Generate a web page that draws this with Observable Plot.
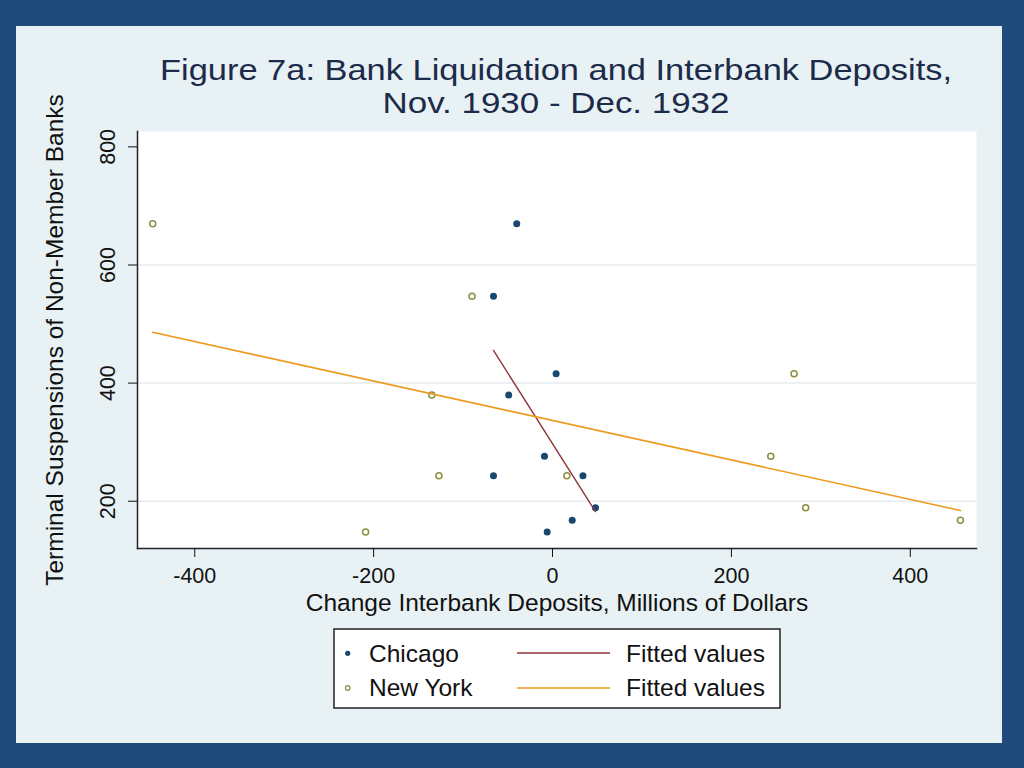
<!DOCTYPE html>
<html>
<head>
<meta charset="utf-8">
<script src="https://cdn.jsdelivr.net/npm/d3@7"></script>
<script src="https://cdn.jsdelivr.net/npm/@observablehq/plot@0.6"></script>
<style>
  html, body { margin: 0; padding: 0; }
  body { width: 1024px; height: 768px; overflow: hidden; background: #1f4a7b; font-family: "Liberation Sans", Arial, sans-serif; }
  #panel { position: absolute; left: 16px; top: 26px; width: 986px; height: 717px; background: #e8f1f4; }
  #title { position: absolute; left: 0; top: 0; }
  #chart { position: absolute; left: 0; top: 94px; }
  #legend { position: absolute; left: 317px; top: 602px; }
</style>
</head>
<body>
<div id="panel">
  <svg id="title" width="986" height="100" font-family="Liberation Sans, Arial, sans-serif">
    <text x="540" y="54" text-anchor="middle" font-size="29" fill="#1c2b4a" textLength="792" lengthAdjust="spacingAndGlyphs">Figure 7a: Bank Liquidation and Interbank Deposits,</text>
    <text x="540" y="87" text-anchor="middle" font-size="29" fill="#1c2b4a" textLength="347" lengthAdjust="spacingAndGlyphs">Nov. 1930 - Dec. 1932</text>
  </svg>
  <div id="chart"></div>
  <svg id="legend" width="449" height="82" font-family="Liberation Sans, Arial, sans-serif" font-size="24.5" fill="#111">
    <rect x="1" y="1" width="446" height="79" fill="white" stroke="#222" stroke-width="1.5"></rect>
    <circle cx="14.7" cy="25.3" r="2.6" fill="#1a476f"></circle>
    <text x="36" y="33.5">Chicago</text>
    <line x1="184" x2="277" y1="25" y2="25" stroke="#90353b" stroke-width="1.5"></line>
    <text x="293" y="33.5">Fitted values</text>
    <circle cx="14.7" cy="60" r="2.3" fill="none" stroke="#8b8f3e" stroke-width="1.2"></circle>
    <text x="36" y="68">New York</text>
    <line x1="184" x2="277" y1="60" y2="60" stroke="#ee9a1c" stroke-width="1.5"></line>
    <text x="293" y="68">Fitted values</text>
  </svg>
</div>
<script>
// Data
const chicagoX = [-40, -66, 4, -49, -9, -66, 34, -6, 22, 48];
const chicagoY = [670, 547, 416, 380, 276, 243, 243, 148, 168, 189];
const newYorkX = [-447, -90, -135, -127, -209, 16, 270, 244, 283, 456];
const newYorkY = [670, 547, 380, 243, 148, 243, 416, 276, 189, 168];

const xTicks = [-400, -200, 0, 200, 400];
const yTicks = [200, 400, 600, 800];
const gridTicks = [200, 400, 600];

const xDomain = [-464, 474];
const yDomain = [120, 826];

const xLabel = "Change Interbank Deposits, Millions of Dollars";
const yLabel = "Terminal Suspensions of Non-Member Banks";

const chicago = chicagoX.map((x, i) => ({x, y: chicagoY[i]}));
const newYork = newYorkX.map((x, i) => ({x, y: newYorkY[i]}));

const chart = Plot.plot({
  width: 986,
  height: 500,
  marginTop: 11,
  marginBottom: 72,
  marginLeft: 121,
  marginRight: 26,
  style: {background: "transparent", fontFamily: "Liberation Sans, Arial, sans-serif", color: "#111", overflow: "visible"},
  x: {domain: xDomain},
  y: {domain: yDomain},
  marks: [
    Plot.frame({fill: "white", stroke: "none"}),
    Plot.gridY(gridTicks, {stroke: "#e4ecef", strokeOpacity: 1, strokeWidth: 1.5}),
    Plot.frame({anchor: "left", stroke: "#222", strokeWidth: 1.5}),
    Plot.frame({anchor: "bottom", stroke: "#222", strokeWidth: 1.5}),
    Plot.axisX({
      ticks: xTicks, tickSize: 9, tickPadding: 10, fontSize: 21.5,
      tickFormat: d => String(d), label: null
    }),
    Plot.axisX({
      ticks: [], fontSize: 24.5,
      label: xLabel, labelAnchor: "center", labelOffset: 62, labelArrow: false
    }),
    Plot.axisY({
      ticks: yTicks, tickSize: 9, tickPadding: 14, tickRotate: -90, fontSize: 21.5,
      tickFormat: d => String(d), label: null
    }),
    Plot.axisY({
      ticks: [], fontSize: 24.5,
      label: yLabel, labelAnchor: "center", labelOffset: 92, labelArrow: false
    }),
    Plot.dot(chicago, {x: "x", y: "y", r: 3.5, fill: "#1a476f", stroke: "none"}),
    Plot.dot(newYork, {x: "x", y: "y", r: 3, fill: "none", stroke: "#8b8f3e", strokeWidth: 1.5}),
    Plot.linearRegressionY(chicago, {x: "x", y: "y", stroke: "#90353b", strokeWidth: 1.4, ci: 0}),
    Plot.linearRegressionY(newYork, {x: "x", y: "y", stroke: "#ee9a1c", strokeWidth: 1.6, ci: 0})
  ]
});
document.getElementById("chart").appendChild(chart);
</script>
</body>
</html>
